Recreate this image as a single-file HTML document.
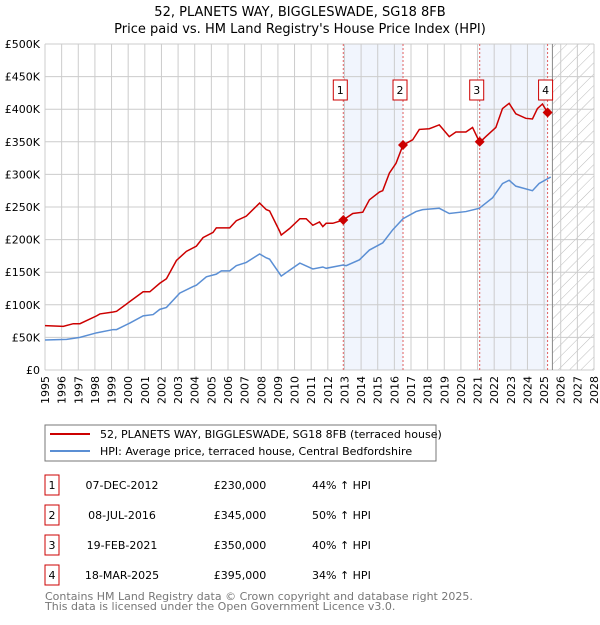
<!DOCTYPE html>
<html><head><meta charset="utf-8"><style>
body{margin:0;background:#fff;width:600px;height:620px;overflow:hidden}
svg text{font-family:"DejaVu Sans","Liberation Sans",sans-serif}
</style></head><body>
<svg id="c" width="600" height="620" xmlns="http://www.w3.org/2000/svg">
<defs><pattern id="h" width="8" height="8" patternUnits="userSpaceOnUse" patternTransform="rotate(45)"><line x1="0" y1="0" x2="0" y2="8" stroke="#bbb" stroke-width="1"/></pattern></defs>
<text x="300" y="16" text-anchor="middle" font-size="13">52, PLANETS WAY, BIGGLESWADE, SG18 8FB</text>
<text x="300" y="33" text-anchor="middle" font-size="13">Price paid vs. HM Land Registry's House Price Index (HPI)</text>
<g id="plot"></g>
<rect x="45" y="425" width="391" height="36" fill="#fff" stroke="#777"/>
<line x1="50" y1="434" x2="90" y2="434" stroke="#cc0000" stroke-width="2"/>
<text x="100" y="438" font-size="11">52, PLANETS WAY, BIGGLESWADE, SG18 8FB (terraced house)</text>
<line x1="50" y1="451" x2="90" y2="451" stroke="#5b8fd4" stroke-width="2"/>
<text x="100" y="455" font-size="11">HPI: Average price, terraced house, Central Bedfordshire</text>
<g id="tbl" font-size="11"></g>
<text x="45" y="600" font-size="11" fill="#777">Contains HM Land Registry data © Crown copyright and database right 2025.</text>
<text x="45" y="610" font-size="11" fill="#777">This data is licensed under the Open Government Licence v3.0.</text>
</svg>
<script>
const priceYears=[1995,1996.1,1996.7,1997.1,1998.1,1998.3,1999.1,1999.3,2000.1,2000.9,2001.3,2001.9,2002.3,2002.9,2003.5,2004.1,2004.5,2005.1,2005.3,2006.1,2006.5,2007.1,2007.9,2008.3,2008.5,2009.1,2009.2,2009.7,2010.32,2010.7,2011.1,2011.5,2011.7,2011.9,2012.3,2012.92,2013.5,2014.1,2014.5,2015.1,2015.3,2015.7,2016.1,2016.52,2017.1,2017.5,2018.1,2018.7,2019.3,2019.7,2020.3,2020.7,2021.13,2021.5,2022.1,2022.5,2022.9,2023.3,2023.9,2024.3,2024.6,2024.9,2025.21];
const priceVals=[68,67,71,71,83,86,89,90,105,120,120,133,140,168,182,190,203,211,218,218,229,236,256,246,244,213,207,217,232,232,222,227,220,225,225,230,240,242,261,273,275,302,317,345,353,369,370,376,358,365,365,372,349,358,372,401,409,393,386,385,401,408,395];
const hpiYears=[1995,1996.3,1997.1,1998.1,1999.1,1999.3,2000.1,2000.9,2001.5,2001.9,2002.3,2003.1,2003.9,2004.1,2004.7,2005.3,2005.6,2006.1,2006.5,2007.1,2007.9,2008.3,2008.5,2009.2,2009.7,2010.32,2011.1,2011.7,2011.9,2012.92,2013.1,2013.9,2014.5,2015.3,2015.9,2016.52,2017.3,2017.7,2018.7,2019.3,2020.3,2021.1,2021.9,2022.5,2022.9,2023.3,2024.3,2024.7,2025.4];
const hpiVals=[46,47,50,57,62,62,72,83,85,93,96,118,128,130,143,147,152,152,160,165,178,172,170,144,153,164,155,158,156,161,160,169,184,195,215,232,243,246,248,240,243,248,264,286,291,282,275,286,296];
const saleYears=[2012.93,2016.52,2021.13,2025.21];
const saleVals=[230,345,350,395];
const saleLabels=["1","2","3","4"];
const saleDates=["07-DEC-2012","08-JUL-2016","19-FEB-2021","18-MAR-2025"];
const salePrices=["£230,000","£345,000","£350,000","£395,000"];
const saleHpi=["44% ↑ HPI","50% ↑ HPI","40% ↑ HPI","34% ↑ HPI"];
const yTicks=[0,50,100,150,200,250,300,350,400,450,500];
const yTickLabels=["£0","£50K","£100K","£150K","£200K","£250K","£300K","£350K","£400K","£450K","£500K"];
const xTicks=[1995,1996,1997,1998,1999,2000,2001,2002,2003,2004,2005,2006,2007,2008,2009,2010,2011,2012,2013,2014,2015,2016,2017,2018,2019,2020,2021,2022,2023,2024,2025,2026,2027,2028];
const X0=45,X1=594,Y0=370,Y1=44;
const xs=y=>X0+(y-1995)/33*(X1-X0);
const ys=v=>Y0-v/500*(Y0-Y1);
const NS="http://www.w3.org/2000/svg";
const g=document.getElementById('plot');
function mk(t,a,p){const e=document.createElementNS(NS,t);for(const k in a)e.setAttribute(k,a[k]);(p||g).appendChild(e);return e;}
for(const [a,b] of [[0,1],[2,3]]){const r=mk('rect',{x:xs(saleYears[a]),y:Y1,width:xs(saleYears[b])-xs(saleYears[a]),height:Y0-Y1,fill:'#eef3fc',opacity:0.8});

}
const hz=mk('rect',{x:xs(2025.5),y:Y1,width:X1-xs(2025.5),height:Y0-Y1,fill:'url(#h)'});


xTicks.forEach((t,i)=>{const l=mk('line',{x1:xs(t),x2:xs(t),y1:Y1,y2:Y0,stroke:'#ccc'});


const x=xs(t)+4,y=Y0+6;
const tx=mk('text',{x:x,y:y,'text-anchor':'end','font-size':11,transform:`rotate(-90 ${x} ${y})`});tx.textContent=t;

});
yTicks.forEach((t,i)=>{const l=mk('line',{x1:X0,x2:X1,y1:ys(t),y2:ys(t),stroke:'#ccc'});


const tx=mk('text',{x:X0-5,y:ys(t)+4,'text-anchor':'end','font-size':11});tx.textContent=yTickLabels[i];

});
const nl=mk('line',{x1:xs(2025.5),x2:xs(2025.5),y1:Y1,y2:Y0,stroke:'#888'});


saleYears.forEach((s,i)=>{const l=mk('line',{x1:xs(s),x2:xs(s),y1:Y1,y2:Y0,stroke:'#e06060','stroke-dasharray':'2,2'});

});
const hp=mk('polyline',{points:hpiYears.map((y,i)=>xs(y)+','+ys(hpiVals[i])).join(' '),fill:'none',stroke:'#5b8fd4','stroke-width':1.5});


const pp=mk('polyline',{points:priceYears.map((y,i)=>xs(y)+','+ys(priceVals[i])).join(' '),fill:'none',stroke:'#cc0000','stroke-width':1.5});


saleYears.forEach((s,i)=>{const cx=xs(s),cy=ys(saleVals[i]);
const d=mk('path',{d:`M${cx} ${cy-5}L${cx+5} ${cy}L${cx} ${cy+5}L${cx-5} ${cy}Z`,fill:'#cc0000'});


const b=mk('rect',{x:cx-10+(i==3?1:0),y:80,width:14,height:20,fill:'#fff',stroke:'#cc0000'});


const t=mk('text',{x:cx-3+(i==3?1:0),y:94,'text-anchor':'middle','font-size':11});t.textContent=saleLabels[i];

});
const tb=document.getElementById('tbl');
saleLabels.forEach((l,i)=>{const y=483+i*30;
const b=mk('rect',{x:45,y:y-8,width:14,height:20,fill:'#fff',stroke:'#cc0000'},tb);


const cells=[[52,l,'middle'],[122,saleDates[i],'middle'],[240,salePrices[i],'middle'],[312,saleHpi[i],'start']];
cells.forEach(c=>{const t=mk('text',{x:c[0],y:y+6,'text-anchor':c[2]},tb);t.textContent=c[1];

});});
</script>
</body></html>
